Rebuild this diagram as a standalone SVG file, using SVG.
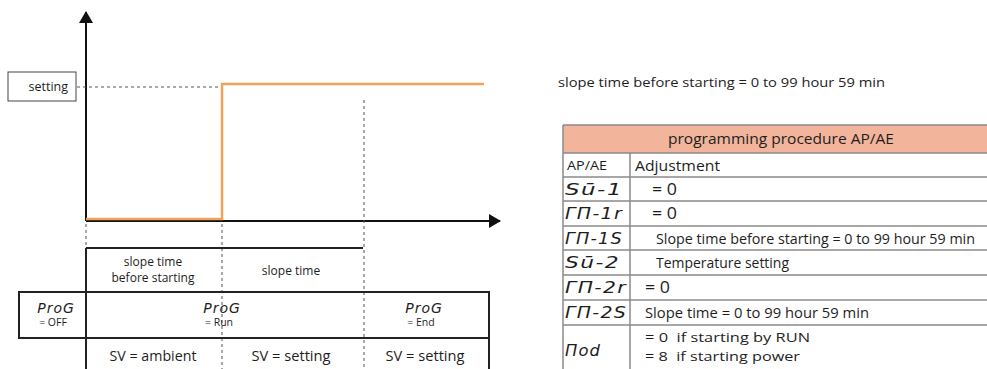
<svg xmlns="http://www.w3.org/2000/svg" width="987" height="369" viewBox="0 0 987 369">
<style>
.t{font-family:"Open Sans","Liberation Sans",sans-serif;fill:#1e1e1e}
.seg{font-family:"DejaVu Sans",sans-serif;font-style:italic;fill:#1e1e1e;letter-spacing:1px}
.axis{stroke:#111;stroke-width:2;fill:none}
.dash{stroke:#555;stroke-width:1;stroke-dasharray:3,3;fill:none}
.solid{stroke:#222;stroke-width:2;fill:none}
.orange{stroke:#F2A35A;stroke-width:2.5;fill:none}
.grid{stroke:#8a8a8a;stroke-width:1.5;fill:none}
</style>
<defs>
<marker id="arr" markerWidth="12" markerHeight="14" refX="11" refY="7" orient="auto" markerUnits="userSpaceOnUse" viewBox="0 0 12 14">
<path d="M0,0 L12,7 L0,14 z" fill="#111"/>
</marker>
</defs>
<rect width="987" height="369" fill="#fff"/>

<g id="connectors">
<line class="axis" x1="86" y1="221" x2="86" y2="12" marker-end="url(#arr)"/>
<line class="axis" x1="86" y1="221" x2="500" y2="221" marker-end="url(#arr)"/>
<line class="dash" x1="77" y1="87" x2="222" y2="87"/>
<polyline class="orange" points="86,219 222,219 222,84 484,84"/>
<line class="dash" x1="86" y1="224" x2="86" y2="248"/>
<line class="dash" x1="222" y1="224" x2="222" y2="369"/>
<line class="dash" x1="364" y1="100" x2="364" y2="369"/>
<line class="solid" x1="86" y1="248" x2="363" y2="248"/>
<line class="solid" x1="86" y1="248" x2="86" y2="369"/>
<rect class="solid" x="19" y="292" width="470" height="46"/>
<line class="solid" x1="489" y1="338" x2="489" y2="369"/>
</g>

<g id="setting">
<rect x="8" y="72" width="68" height="29" fill="#fff" stroke="#444" stroke-width="1"/>
<text class="t" x="68" y="91" font-size="12.5" text-anchor="end">setting</text>
</g>

<g id="phase-labels">
<text class="t" x="153" y="266" font-size="12" text-anchor="middle">slope time</text>
<text class="t" x="153" y="282" font-size="12" text-anchor="middle" textLength="83" lengthAdjust="spacingAndGlyphs">before starting</text>
<text class="t" x="291" y="275" font-size="12" text-anchor="middle">slope time</text>
</g>

<g id="prog-off">
<text class="seg" x="56" y="313" font-size="14" text-anchor="middle">ProG</text>
<text class="t" x="53" y="326" font-size="10.5" text-anchor="middle">= OFF</text>
</g>
<g id="prog-run">
<text class="seg" x="222" y="313" font-size="14" text-anchor="middle">ProG</text>
<text class="t" x="219" y="326" font-size="10.5" text-anchor="middle">= Run</text>
</g>
<g id="prog-end">
<text class="seg" x="424" y="313" font-size="14" text-anchor="middle">ProG</text>
<text class="t" x="421" y="326" font-size="10.5" text-anchor="middle">= End</text>
</g>

<g id="sv-labels">
<text class="t" x="153" y="361" font-size="14" text-anchor="middle" textLength="87" lengthAdjust="spacingAndGlyphs">SV = ambient</text>
<text class="t" x="291" y="361" font-size="14" text-anchor="middle" textLength="79" lengthAdjust="spacingAndGlyphs">SV = setting</text>
<text class="t" x="425" y="361" font-size="14" text-anchor="middle" textLength="79" lengthAdjust="spacingAndGlyphs">SV = setting</text>
</g>

<g id="note">
<text class="t" x="558" y="87" font-size="13.5" textLength="327" lengthAdjust="spacingAndGlyphs">slope time before starting = 0 to 99 hour 59 min</text>
</g>

<g id="table">
<rect x="563" y="125" width="430" height="28" fill="#F2B59B"/>
<text class="t" x="781" y="144" font-size="14.5" text-anchor="middle" textLength="226" lengthAdjust="spacingAndGlyphs">programming procedure AP/AE</text>
<g class="grid">
<line x1="563" y1="125" x2="987" y2="125"/>
<line x1="563" y1="153" x2="987" y2="153"/>
<line x1="563" y1="177" x2="987" y2="177"/>
<line x1="563" y1="201" x2="987" y2="201"/>
<line x1="563" y1="226" x2="987" y2="226"/>
<line x1="563" y1="250" x2="987" y2="250"/>
<line x1="563" y1="275" x2="987" y2="275"/>
<line x1="563" y1="300" x2="987" y2="300"/>
<line x1="563" y1="325" x2="987" y2="325"/>
<line x1="563" y1="125" x2="563" y2="369"/>
<line x1="630" y1="153" x2="630" y2="369"/>
</g>
<text class="t" x="567" y="170" font-size="12" textLength="40" lengthAdjust="spacingAndGlyphs">AP/AE</text>
<text class="t" x="635" y="171" font-size="14" textLength="85" lengthAdjust="spacingAndGlyphs">Adjustment</text>

<text class="seg" x="565" y="195" font-size="15" textLength="58" lengthAdjust="spacingAndGlyphs">Sū-1</text>
<text class="t" x="652" y="195" font-size="15.5" textLength="25" lengthAdjust="spacingAndGlyphs">= 0</text>

<text class="seg" x="565" y="219" font-size="15" textLength="58" lengthAdjust="spacingAndGlyphs">ΓΠ-1r</text>
<text class="t" x="652" y="219" font-size="15.5" textLength="25" lengthAdjust="spacingAndGlyphs">= 0</text>

<text class="seg" x="565" y="244" font-size="15" textLength="58" lengthAdjust="spacingAndGlyphs">ΓΠ-1S</text>
<text class="t" x="656" y="244" font-size="14" textLength="319" lengthAdjust="spacingAndGlyphs">Slope time before starting = 0 to 99 hour 59 min</text>

<text class="seg" x="565" y="268" font-size="15" textLength="55" lengthAdjust="spacingAndGlyphs">Sū-2</text>
<text class="t" x="656" y="268" font-size="14" textLength="133" lengthAdjust="spacingAndGlyphs">Temperature setting</text>

<text class="seg" x="565" y="293" font-size="15" textLength="62" lengthAdjust="spacingAndGlyphs">ΓΠ-2r</text>
<text class="t" x="645" y="293" font-size="15.5" textLength="25" lengthAdjust="spacingAndGlyphs">= 0</text>

<text class="seg" x="565" y="318" font-size="15" textLength="62" lengthAdjust="spacingAndGlyphs">ΓΠ-2S</text>
<text class="t" x="645" y="318" font-size="14" textLength="224" lengthAdjust="spacingAndGlyphs">Slope time  = 0 to 99 hour 59 min</text>

<text class="seg" x="565" y="356" font-size="15" textLength="36" lengthAdjust="spacingAndGlyphs">Πod</text>
<text class="t" x="645" y="342" font-size="13" xml:space="preserve" textLength="165" lengthAdjust="spacingAndGlyphs">= 0  if starting by RUN</text>
<text class="t" x="645" y="361" font-size="13" xml:space="preserve" textLength="155" lengthAdjust="spacingAndGlyphs">= 8  if starting power</text>
</g>
</svg>
